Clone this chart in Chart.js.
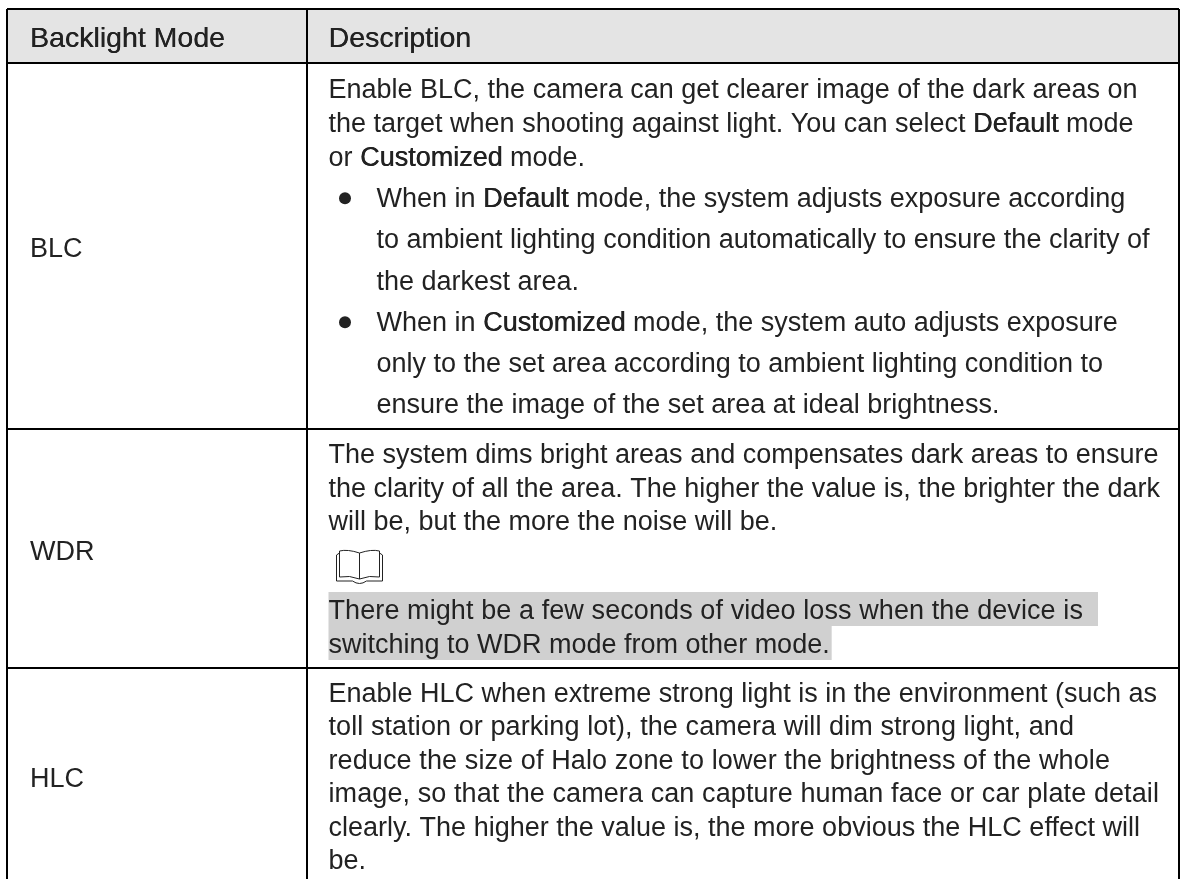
<!DOCTYPE html>
<html>
<head>
<meta charset="utf-8">
<style>
html, body { margin: 0; padding: 0; background: #fff; overflow: hidden; }
canvas { display: block; }
</style>
<script src="https://cdn.jsdelivr.net/npm/chart.js@4/dist/chart.umd.min.js"></script>
</head>
<body>
<canvas id="chart" width="1181" height="879"></canvas>
<script>
// table content
const headers = ["Backlight Mode", "Description"];
const modes = ["BLC", "WDR", "HLC"];
const blcLines = [
    "Enable BLC, the camera can get clearer image of the dark areas on",
    "the target when shooting against light. You can select *Default* mode",
    "or *Customized* mode."
];
const blcBullets = [
    ["When in *Default* mode, the system adjusts exposure according",
     "to ambient lighting condition automatically to ensure the clarity of",
     "the darkest area."],
    ["When in *Customized* mode, the system auto adjusts exposure",
     "only to the set area according to ambient lighting condition to",
     "ensure the image of the set area at ideal brightness."]
];
const wdrLines = [
    "The system dims bright areas and compensates dark areas to ensure",
    "the clarity of all the area. The higher the value is, the brighter the dark",
    "will be, but the more the noise will be."
];
const wdrNote = [
    "There might be a few seconds of video loss when the device is",
    "switching to WDR mode from other mode."
];
const hlcLines = [
    "Enable HLC when extreme strong light is in the environment (such as",
    "toll station or parking lot), the camera will dim strong light, and",
    "reduce the size of Halo zone to lower the brightness of the whole",
    "image, so that the camera can capture human face or car plate detail",
    "clearly. The higher the value is, the more obvious the HLC effect will",
    "be."
];

// table geometry in page pixels, used as the scale ticks
const columnEdges = [7, 307, 1179];
const rowEdges = [9, 63, 429, 668];

// baselines of the text rows
const headerY = 47;
const modeY = [257, 560, 787];
const blcY = [98, 132, 166];
const bulletY = [[207, 248, 290], [331, 372, 413]];
const wdrY = [463, 497, 530];
const noteY = [619, 653];
const hlcY = [702, 735, 769, 802, 836, 869];
// right ends of the HLC lines, the reference font runs a bit wider than ours
const hlcEnds = [1157, 1074, 1110, 1159, 1140, 0];

const FONT = '"Liberation Sans", sans-serif';
const FONT_SIZE = 27;
const INK = "#222";

function drawRuns(ctx, text, x, y, size) {
    // *word* is the slightly heavier emphasis of the manual
    text.split("*").forEach((run, i) => {
        ctx.font = (size || FONT_SIZE) + "px " + FONT;
        ctx.fillText(run, x, y);
        if (i % 2 === 1) {
            ctx.fillText(run, x + 0.5, y);
        }
        x += ctx.measureText(run).width;
    });
    return x;
}

function drawFitted(ctx, text, x, y, end) {
    ctx.font = FONT_SIZE + "px " + FONT;
    if (end) {
        const extra = end - x - ctx.measureText(text).width;
        ctx.letterSpacing = (extra / text.length) + "px";
    }
    ctx.fillText(text, x, y);
    ctx.letterSpacing = "0px";
}

function drawBook(ctx, x, y) {
    ctx.save();
    ctx.strokeStyle = "#222";
    ctx.lineWidth = 1;
    ctx.beginPath();
    ctx.moveTo(x + 24, y + 3);
    ctx.quadraticCurveTo(x + 12, y - 1, x + 4, y + 1);
    ctx.lineTo(x + 4, y + 27);
    ctx.quadraticCurveTo(x + 14, y + 25, x + 24, y + 29);
    ctx.quadraticCurveTo(x + 34, y + 25, x + 44, y + 27);
    ctx.lineTo(x + 44, y + 1);
    ctx.quadraticCurveTo(x + 36, y - 1, x + 24, y + 3);
    ctx.lineTo(x + 24, y + 29);
    ctx.moveTo(x + 4, y + 3);
    ctx.lineTo(x + 1, y + 5);
    ctx.lineTo(x + 1, y + 31);
    ctx.lineTo(x + 17, y + 31);
    ctx.quadraticCurveTo(x + 24, y + 36, x + 31, y + 31);
    ctx.lineTo(x + 47, y + 31);
    ctx.lineTo(x + 47, y + 5);
    ctx.lineTo(x + 44, y + 3);
    ctx.stroke();
    ctx.restore();
}

const tablePlugin = {
    id: "tableCells",
    beforeDatasetsDraw(chart) {
        const ctx = chart.ctx;
        const sx = chart.scales.x;
        const left = sx.getPixelForValue(columnEdges[0]) + 23;
        const mid = sx.getPixelForValue(columnEdges[1]);
        const cellX = mid + 21.5;
        const bulletTextX = mid + 69.5;

        ctx.save();
        ctx.fillStyle = INK;
        ctx.textBaseline = "alphabetic";
        ctx.textAlign = "left";

        // header
        drawRuns(ctx, headers[0], left, headerY, 28.5);
        drawRuns(ctx, headers[1], cellX, headerY, 28.5);
        drawRuns(ctx, headers[0], left + 0.3, headerY, 28.5);
        drawRuns(ctx, headers[1], cellX + 0.3, headerY, 28.5);

        // first column
        modes.forEach((m, i) => drawRuns(ctx, m, left, modeY[i]));

        // BLC
        blcLines.forEach((l, i) => drawRuns(ctx, l, cellX, blcY[i]));
        blcBullets.forEach((lines, b) => {
            ctx.beginPath();
            ctx.arc(mid + 38, bulletY[b][0] - 8.7, 6, 0, Math.PI * 2);
            ctx.fill();
            lines.forEach((l, i) => drawRuns(ctx, l, bulletTextX, bulletY[b][i]));
        });

        // WDR
        wdrLines.forEach((l, i) => drawRuns(ctx, l, cellX, wdrY[i]));
        drawBook(ctx, cellX + 7, 550);
        ctx.fillStyle = "#d0d0d0";
        ctx.fillRect(cellX, 592, 1098 - cellX, 34);
        ctx.font = FONT_SIZE + "px " + FONT;
        ctx.fillRect(cellX, 626, ctx.measureText(wdrNote[1]).width + 2, 34);
        ctx.fillStyle = INK;
        drawFitted(ctx, wdrNote[0], cellX, noteY[0], 1083);
        drawFitted(ctx, wdrNote[1], cellX, noteY[1], 0);

        // HLC
        hlcLines.forEach((l, i) => drawFitted(ctx, l, cellX, hlcY[i], hlcEnds[i]));
        ctx.restore();
    }
};

// header band goes under the grid lines
const headerBand = {
    id: "headerBand",
    beforeDraw(chart) {
        const ctx = chart.ctx;
        const sx = chart.scales.x;
        const sy = chart.scales.y;
        ctx.save();
        ctx.fillStyle = "#e4e4e4";
        ctx.fillRect(sx.getPixelForValue(columnEdges[0]), sy.getPixelForValue(rowEdges[0]),
            sx.getPixelForValue(columnEdges[2]) - sx.getPixelForValue(columnEdges[0]),
            sy.getPixelForValue(rowEdges[1]) - sy.getPixelForValue(rowEdges[0]));
        ctx.restore();
    }
};

new Chart(document.getElementById("chart"), {
    type: "scatter",
    data: { datasets: [{ data: [] }] },
    plugins: [headerBand, tablePlugin],
    options: {
        responsive: false,
        animation: false,
        // chart area is exactly the table, so the grid lines stop at its border
        layout: { padding: { left: 7, top: 9, right: 2, bottom: 0 } },
        plugins: { legend: { display: false }, tooltip: { enabled: false }, title: { display: false } },
        scales: {
            x: {
                type: "linear", min: 7, max: 1179,
                afterBuildTicks: (s) => { s.ticks = columnEdges.map(v => ({ value: v })); },
                ticks: { display: false },
                border: { display: false },
                grid: { color: "#000", lineWidth: 2, drawTicks: false }
            },
            y: {
                type: "linear", min: 9, max: 879, reverse: true,
                afterBuildTicks: (s) => { s.ticks = rowEdges.map(v => ({ value: v })); },
                ticks: { display: false },
                border: { display: false },
                grid: { color: "#000", lineWidth: 2, drawTicks: false }
            }
        }
    }
});
</script>
</body>
</html>
